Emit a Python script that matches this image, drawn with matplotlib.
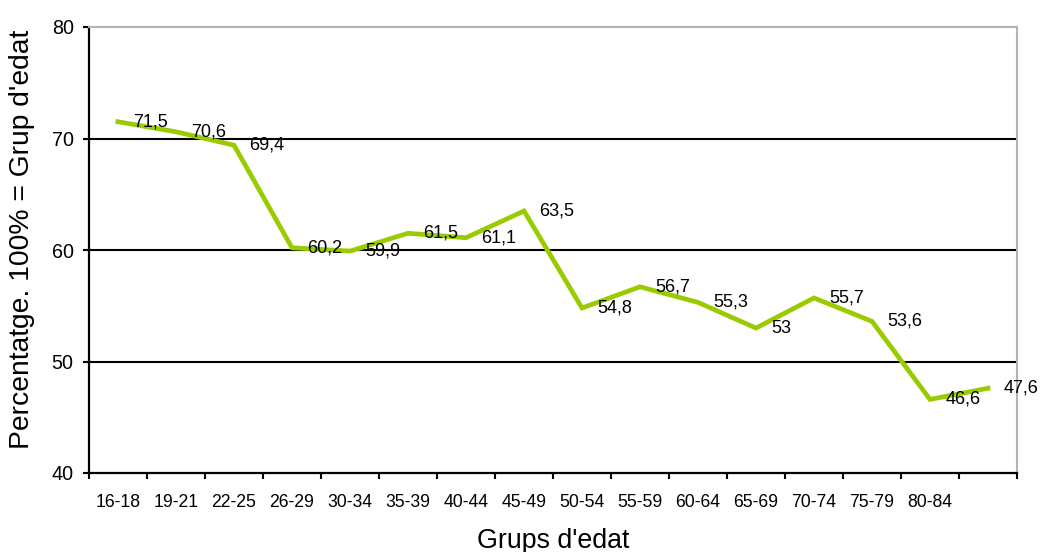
import matplotlib
matplotlib.use("Agg")
import matplotlib.pyplot as plt
import matplotlib.ticker as mticker
import numpy as np

plt.rcParams["font.family"] = ["Liberation Sans", "DejaVu Sans"]

# age groups (the last point has no label in the source)
age_groups = ["16-18", "19-21", "22-25", "26-29", "30-34", "35-39", "40-44",
              "45-49", "50-54", "55-59", "60-64", "65-69", "70-74", "75-79",
              "80-84", ""]
values = [71.5, 70.6, 69.4, 60.2, 59.9, 61.5, 61.1, 63.5, 54.8, 56.7,
          55.3, 53.0, 55.7, 53.6, 46.6, 47.6]
value_labels = ["71,5", "70,6", "69,4", "60,2", "59,9", "61,5", "61,1", "63,5",
                "54,8", "56,7", "55,3", "53", "55,7", "53,6", "46,6", "47,6"]
y_ticks = [40, 50, 60, 70, 80]

W, H = 1043, 552
fig = plt.figure(figsize=(W / 100, H / 100), dpi=100)
ax = fig.add_axes([89 / W, 1 - 473 / H, (1017 - 89) / W, (473 - 27) / H])

x = np.arange(len(values))
ax.plot(x, values, color="#99CC00", lw=3.4, solid_joinstyle="miter",
        zorder=3, clip_on=False)

for xi, v, lab in zip(x, values, value_labels):
    ax.annotate(lab, (xi, v), xytext=(11, 0), textcoords="offset points",
                ha="left", va="center", fontsize=13, zorder=4,
                annotation_clip=False)

ax.set_xlim(-0.5, len(values) - 0.5)
ax.set_ylim(40, 80)

# category boundaries get tick marks, labels sit at the centres
ax.xaxis.set_major_locator(mticker.FixedLocator(np.arange(len(values) + 1) - 0.5))
ax.xaxis.set_major_formatter(mticker.NullFormatter())
ax.xaxis.set_minor_locator(mticker.FixedLocator(x))
ax.xaxis.set_minor_formatter(mticker.FixedFormatter(age_groups))
ax.tick_params(axis="x", which="major", direction="out", length=4.5, width=1.5)
ax.tick_params(axis="x", which="minor", length=0, pad=15, labelsize=12.7)

ax.set_yticks(y_ticks)
ax.tick_params(axis="y", direction="out", length=4.5, width=1.5, pad=6.5,
               labelsize=14.2)

for yv in y_ticks[1:-1]:
    ax.axhline(yv, color="black", lw=1.5, zorder=1)

for side in ("left", "bottom"):
    ax.spines[side].set_linewidth(1.6)
    ax.spines[side].set_color("black")
for side in ("top", "right"):
    ax.spines[side].set_linewidth(1.5)
    ax.spines[side].set_color("#B3B3B3")

fig.text(553 / W, 1 - 541 / H, "Grups d'edat", ha="center", va="center",
         fontsize=19.3)
fig.text(22 / W, 1 - 239 / H, "Percentatge. 100% = Grup d'edat",
         ha="center", va="center", rotation=90, fontsize=20.3)

fig.savefig("out.png", dpi=100)
